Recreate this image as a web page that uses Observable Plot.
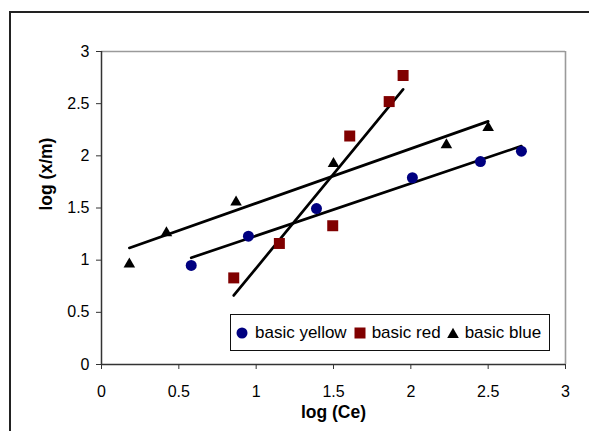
<!DOCTYPE html>
<html>
<head>
<meta charset="utf-8">
<script src="https://cdn.jsdelivr.net/npm/d3@7"></script>
<script src="https://cdn.jsdelivr.net/npm/@observablehq/plot@0.6"></script>
<style>
  html, body { margin: 0; padding: 0; background: #fff; }
  body { width: 589px; height: 431px; overflow: hidden; position: relative; font-family: "Liberation Sans", Arial, sans-serif; }
  #frame { position: absolute; left: 9px; top: 11px; width: 800px; height: 800px; border-left: 2px solid #222; border-top: 2px solid #222; pointer-events: none; }
  #chart { position: absolute; left: 0; top: 0; }
  #legend { position: absolute; left: 230px; top: 314px; width: 318px; height: 35px; border: 1.5px solid #111; background: #fff;
            display: flex; align-items: center; font-size: 17px; color: #000; box-sizing: content-box; white-space: nowrap; }
  #legend svg { display: block; flex: none; }
</style>
</head>
<body>
<div id="frame"></div>
<div id="chart"></div>
<div id="legend"></div>
<script>
// Series values
const seriesNames = ["basic yellow", "basic red", "basic blue"];
const yellowX = [0.58, 0.95, 1.39, 2.01, 2.45, 2.715];
const yellowY = [0.95, 1.23, 1.495, 1.79, 1.945, 2.045];
const redX = [0.855, 1.15, 1.495, 1.605, 1.86, 1.95];
const redY = [0.83, 1.16, 1.33, 2.19, 2.52, 2.77];
const blueX = [0.18, 0.42, 0.87, 1.50, 2.23, 2.50];
const blueY = [0.975, 1.275, 1.57, 1.94, 2.12, 2.285];
const xTicks = [0, 0.5, 1, 1.5, 2, 2.5, 3];
const yTicks = [0, 0.5, 1, 1.5, 2, 2.5, 3];
const xTitle = "log (Ce)";
const yTitle = "log (x/m)";

const yellow = yellowX.map((x, i) => ({x, y: yellowY[i]}));
const red = redX.map((x, i) => ({x, y: redY[i]}));
const blue = blueX.map((x, i) => ({x, y: blueY[i]}));

const fmt = d => String(d);

const plot = Plot.plot({
  width: 589,
  height: 431,
  marginLeft: 101,
  marginRight: 24,
  marginTop: 51,
  marginBottom: 67,
  style: { fontFamily: "'Liberation Sans', Arial, sans-serif", fontSize: "16px", background: "transparent", color: "#000" },
  x: { domain: [0, 3], ticks: xTicks, tickFormat: fmt },
  y: { domain: [0, 3], ticks: yTicks, tickFormat: fmt },
  marks: [
    Plot.ruleY([3], { stroke: "#9a9a9a", strokeWidth: 1.6 }),
    Plot.ruleX([3], { stroke: "#9a9a9a", strokeWidth: 1.6 }),
    Plot.ruleX([0], { stroke: "#333", strokeWidth: 1.5 }),
    Plot.ruleY([0], { stroke: "#333", strokeWidth: 1.5 }),
    Plot.axisX({ ticks: xTicks, tickFormat: fmt, tickSize: 5, tickPadding: 16, fontSize: 16, stroke: "#333", label: null }),
    Plot.axisY({ ticks: yTicks, tickFormat: fmt, tickSize: 5, tickPadding: 7, fontSize: 16, stroke: "#333", label: null }),
    Plot.text([xTitle], { frameAnchor: "bottom", dy: 53, lineAnchor: "bottom", fontWeight: "bold", fontSize: 17.5 }),
    Plot.text([yTitle], { frameAnchor: "left", dx: -55.5, dy: 2.5, rotate: -90, fontWeight: "bold", fontSize: 17.5 }),
    Plot.linearRegressionY(yellow, { x: "x", y: "y", ci: 0, stroke: "#000", strokeWidth: 2.7 }),
    Plot.linearRegressionY(red, { x: "x", y: "y", ci: 0, stroke: "#000", strokeWidth: 2.7 }),
    Plot.linearRegressionY(blue, { x: "x", y: "y", ci: 0, stroke: "#000", strokeWidth: 2.7 }),
    Plot.dot(yellow, { x: "x", y: "y", symbol: "circle", r: 5.5, fill: "#000080" }),
    Plot.dot(red, { x: "x", y: "y", symbol: "square", r: 6.2, fill: "#800000" }),
    Plot.dot(blue, { x: "x", y: "y", symbol: "triangle", r: 4.3, fill: "#000", dy: 1.5 })
  ]
});
document.getElementById("chart").appendChild(plot);

// Legend (HTML overlay)
const legendSymbols = [
  `<svg width="12" height="12" viewBox="-6 -6 12 12"><circle r="5.5" fill="#000080"/></svg>`,
  `<svg width="12" height="12" viewBox="-6 -6 12 12"><rect x="-5.5" y="-5.5" width="11" height="11" fill="#800000"/></svg>`,
  `<svg width="12" height="12" viewBox="-6 -6 12 12"><path d="M0,-5.2L5.8,5L-5.8,5Z" fill="#000"/></svg>`
];
const margins = [["5px", "7px"], ["7px", "6px"], ["6px", "6px"]];
const legend = document.getElementById("legend");
seriesNames.forEach((name, i) => {
  const wrap = document.createElement("span");
  wrap.style.display = "flex";
  wrap.style.alignItems = "center";
  wrap.innerHTML = legendSymbols[i];
  wrap.firstChild.style.marginLeft = margins[i][0];
  wrap.firstChild.style.marginRight = margins[i][1];
  const t = document.createElement("span");
  t.textContent = name;
  wrap.appendChild(t);
  legend.appendChild(wrap);
});
</script>
</body>
</html>
